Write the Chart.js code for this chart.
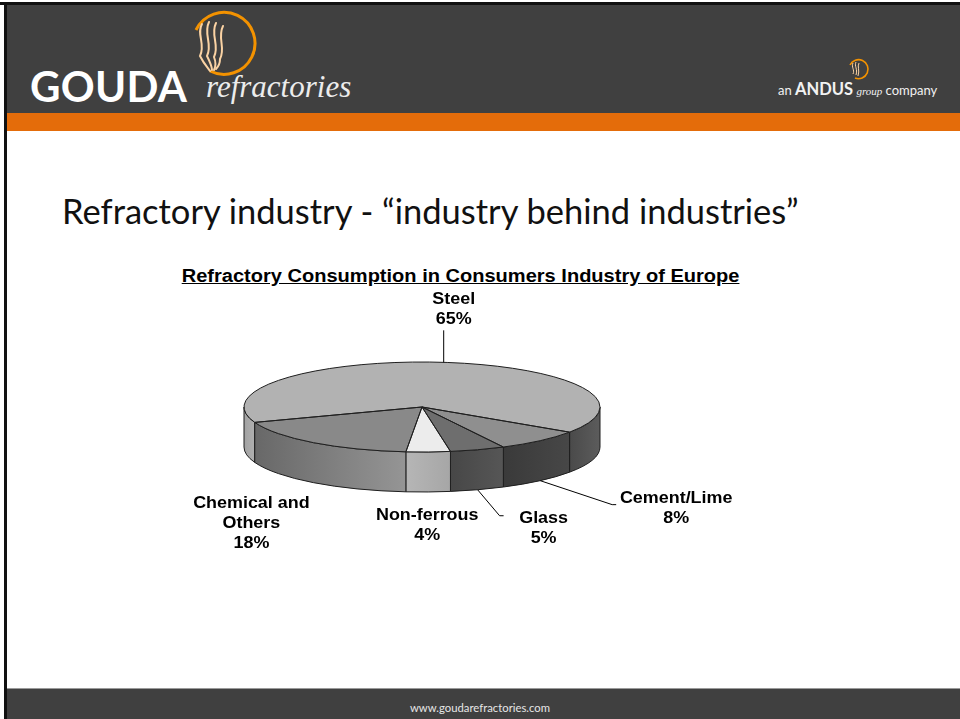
<!DOCTYPE html>
<html>
<head>
<meta charset="utf-8">
<title>Refractory Consumption in Consumers Industry of Europe</title>
<script src="https://cdn.jsdelivr.net/npm/chart.js@4.4.1/dist/chart.umd.min.js"></script>
<style>
    html, body { margin: 0; padding: 0; }
    body { width: 960px; height: 719px; position: relative; overflow: hidden; background: #fff; font-family: Lato, "Open Sans", sans-serif; }
    .edge-top { position: absolute; left: 0; top: 2px; width: 960px; height: 3px; background: #111; }
    .edge-left { position: absolute; left: 4px; top: 2px; width: 3px; height: 717px; background: #111; }
    .header { position: absolute; left: 7px; top: 5px; width: 953px; height: 108px; background: #404040; }
    .band { position: absolute; left: 7px; top: 113px; width: 953px; height: 18px; background: #e46c0a; }
    .gouda { position: absolute; left: 30px; top: 61px; color: #fff; font: 700 42px Lato, sans-serif; letter-spacing: 0.3px; }
    .refr { position: absolute; left: 206px; top: 69px; color: #ececec; font: italic 31px "Liberation Serif", serif; }
    .andus { position: absolute; left: 778px; top: 79px; color: #f2f2f2; font: 13px Lato, sans-serif; white-space: nowrap; }
    .andus b { font-size: 16.5px; }
    .andus i { font: italic 11px "Liberation Serif", serif; }
    .slide-title { position: absolute; left: 62px; top: 190px; font: 34.5px Lato, sans-serif; color: #111; white-space: nowrap; }
    .chart-title { position: absolute; left: 0; top: 266px; width: 922px; text-align: center; }
    .chart-title span { display: inline-block; font: 700 17.5px "Liberation Sans", Arial, sans-serif; text-decoration: underline; transform: scaleX(1.145); color: #000; }
    .chart-box { position: absolute; left: 100px; top: 280px; width: 644px; height: 280px; }
    .footer { position: absolute; left: 7px; top: 688px; width: 953px; height: 31px; background: #404040; border-top: 1px solid #9a9a9a; box-sizing: border-box; }
    .footer span { position: absolute; left: 0; width: 946px; top: 12px; text-align: center; color: #e6e6e6; font: 11.3px Lato, sans-serif; }
</style>
</head>
<body>
<div class="edge-top"></div>
<div class="header"></div>
<div class="band"></div>
<div class="edge-left"></div>

<!-- logo -->
<svg style="position:absolute;left:180px;top:4px" width="80" height="76" viewBox="0 0 80 76">
    <path d="M16 26 A31 31 0 1 1 30 67" fill="none" stroke="#f39200" stroke-width="3"/>
    <g fill="none" stroke="#fbd3a4" stroke-width="2" stroke-linecap="round">
        <path d="M22 20 C16 30 26 40 20 52 C24 60 28 64 30 67"/>
        <path d="M29 18 C23 30 33 40 27 52 C30 58 32 62 32 66"/>
        <path d="M36 19 C30 31 40 41 34 53 C36 58 36 62 34 66"/>
        <path d="M43 22 C37 34 46 44 40 55 C40 60 38 63 36 65"/>
    </g>
</svg>
<div class="gouda">GOUDA</div>
<div class="refr">refractories</div>

<svg style="position:absolute;left:846px;top:57px" width="24" height="24" viewBox="0 0 24 24">
    <path d="M4 8 A9.5 9.5 0 1 1 9 21" fill="none" stroke="#f39200" stroke-width="1.6"/>
    <path d="M7 6 C5 10 9 13 7 17 M10 5 C8 9 12 12 10 18 M13 6 C11 10 14 13 12 19" fill="none" stroke="#fbd3a4" stroke-width="1"/>
</svg>
<div class="andus">an <b>ANDUS</b> <i>group</i> company</div>

<div class="slide-title">Refractory industry - “industry behind industries”</div>
<div class="chart-title"><span>Refractory Consumption in Consumers Industry of Europe</span></div>

<div class="chart-box"><canvas id="pieChart"></canvas></div>

<div class="footer"><span>www.goudarefractories.com</span></div>

<script>
// Data
const categories = ['Steel', 'Cement/Lime', 'Glass', 'Non-ferrous', 'Chemical and Others'];
const shares = [65, 8, 5, 4, 18];
const labelLines = [['Steel'], ['Cement/Lime'], ['Glass'], ['Non-ferrous'], ['Chemical and', 'Others']];

// Look of the 3D pie
const topColors = ['#b2b2b2', '#8f8f8f', '#6e6e6e', '#ececec', '#898989'];
// side wall fills, one [left, right] pair per visible piece of each slice
const sideFills = [
    [['#a2a2a2', '#b0b0b0'], ['#4a4a4a', '#5c5c5c']],
    [['#3a3a3a', '#474747']],
    [['#474747', '#565656']],
    [['#b6b6b6', '#a6a6a6']],
    [['#686868', '#959595']]
];
const PIE = { rx: 178, ry: 45, depth: 40 };
const TEXT_STRETCH = 1.12;
const LABEL_FONT = 'bold 16px "Liberation Sans", Arial, sans-serif';

// label placement relative to the slice edge point: text offset, leader points
const labelOffsets = [[10, -64], [136, 16], [66, 27], [-1, 22], [-62, 19]];
const leaders = [[[0, -32]], [[72, 24], [76, 24]], [[22, 26], [26, 26]], [], []];

// parts of [s, e] that lie on the front half (0..PI)
function frontParts(s, e) {
    const parts = [];
    for (let k = -1; k <= 2; k++) {
        const a = Math.max(s, k * 2 * Math.PI);
        const b = Math.min(e, k * 2 * Math.PI + Math.PI);
        if (b > a) parts.push([a, b]);
    }
    return parts;
}

function edgePoint(cx, cy, a) {
    return [cx + PIE.rx * Math.cos(a), cy + PIE.ry * Math.sin(a)];
}

function drawSide(ctx, cx, cy, a, b, fill) {
    const [xa] = edgePoint(cx, cy, a);
    const [xb, yb] = edgePoint(cx, cy, b);
    ctx.beginPath();
    ctx.ellipse(cx, cy, PIE.rx, PIE.ry, 0, a, b);
    ctx.lineTo(xb, yb + PIE.depth);
    ctx.ellipse(cx, cy + PIE.depth, PIE.rx, PIE.ry, 0, b, a, true);
    ctx.closePath();
    const grad = ctx.createLinearGradient(xb, 0, xa, 0);
    grad.addColorStop(0, fill[0]);
    grad.addColorStop(1, fill[1]);
    ctx.fillStyle = grad;
    ctx.fill();
    ctx.strokeStyle = '#1e1e1e';
    ctx.lineWidth = 1;
    ctx.stroke();
}

function stretchedText(ctx, txt, x, y) {
    ctx.save();
    ctx.translate(x, y);
    ctx.scale(TEXT_STRETCH, 1);
    ctx.fillText(txt, 0, 0);
    ctx.restore();
}

const pie3d = {
    id: 'pie3d',
    beforeDatasetsDraw(chart) {
        const ctx = chart.ctx;
        const arcs = chart.getDatasetMeta(0).data;
        const cx = arcs[0].x, cy = arcs[0].y, r = arcs[0].outerRadius;

        // side walls of the front half
        arcs.forEach((arc, i) => {
            frontParts(arc.startAngle, arc.endAngle).forEach(([a, b], j) => {
                drawSide(ctx, cx, cy, a, b, sideFills[i][j] || sideFills[i][0]);
            });
        });

        // squash the flat pie into the top face
        ctx.save();
        ctx.translate(cx, cy);
        ctx.scale(PIE.rx / r, PIE.ry / r);
        ctx.translate(-cx, -cy);
    },
    afterDatasetsDraw(chart) {
        const ctx = chart.ctx;
        ctx.restore();
        const arcs = chart.getDatasetMeta(0).data;
        const cx = arcs[0].x, cy = arcs[0].y;

        // outlines of the top face
        ctx.strokeStyle = '#1e1e1e';
        ctx.lineWidth = 1;
        arcs.forEach(arc => {
            const [x0, y0] = edgePoint(cx, cy, arc.startAngle);
            ctx.beginPath();
            ctx.moveTo(cx, cy);
            ctx.lineTo(x0, y0);
            ctx.ellipse(cx, cy, PIE.rx, PIE.ry, 0, arc.startAngle, arc.endAngle);
            ctx.closePath();
            ctx.stroke();
        });

        // labels with leader lines
        ctx.font = LABEL_FONT;
        ctx.textAlign = 'center';
        ctx.textBaseline = 'alphabetic';
        arcs.forEach((arc, i) => {
            const mid = (arc.startAngle + arc.endAngle) / 2;
            let [ax, ay] = edgePoint(cx, cy, mid);
            if (Math.sin(mid) > 0) ay += PIE.depth;

            if (leaders[i].length) {
                ctx.beginPath();
                ctx.moveTo(ax, ay);
                leaders[i].forEach(([dx, dy]) => ctx.lineTo(ax + dx, ay + dy));
                ctx.strokeStyle = '#000';
                ctx.stroke();
            }

            const lines = labelLines[i].concat([shares[i] + '%']);
            const tx = ax + labelOffsets[i][0];
            const ty = ay + labelOffsets[i][1];
            ctx.fillStyle = '#000';
            lines.forEach((line, j) => stretchedText(ctx, line, tx, ty + 6 + j * 20));
        });
    }
};

new Chart(document.getElementById('pieChart'), {
    type: 'pie',
    data: {
        labels: categories,
        datasets: [{
            data: shares,
            backgroundColor: topColors,
            borderWidth: 0,
            clip: false
        }]
    },
    options: {
        responsive: true,
        maintainAspectRatio: false,
        animation: false,
        rotation: 250,
        layout: { padding: { bottom: 26 } },
        plugins: {
            legend: { display: false },
            tooltip: { enabled: false }
        }
    },
    plugins: [pie3d]
});
</script>
</body>
</html>
